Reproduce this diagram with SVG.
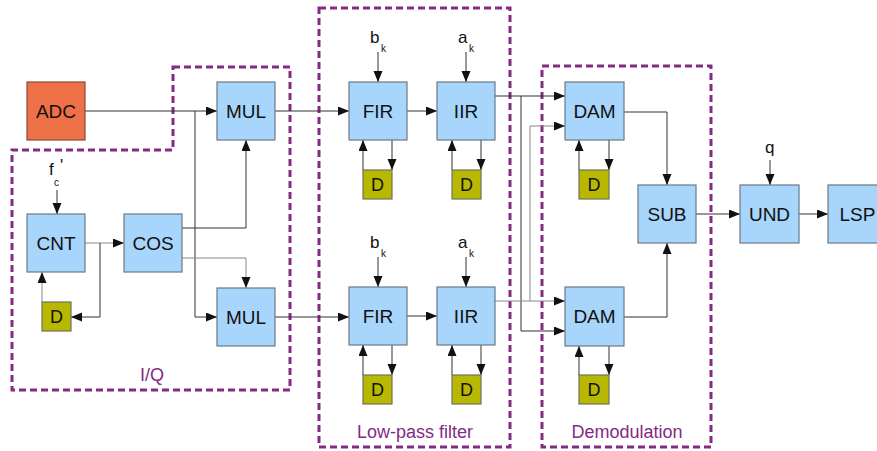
<svg xmlns="http://www.w3.org/2000/svg" width="877" height="451" viewBox="0 0 877 451">
<style>
.box{fill:#a7d5fb;stroke:#6a7a88;stroke-width:1.2}
.adc{fill:#ee7046;stroke:#8a4a35;stroke-width:1.2}
.d{fill:#b9b800;stroke:#707060;stroke-width:1.2}
.t{font-family:"Liberation Sans",Arial,sans-serif;font-size:19px;fill:#111;text-anchor:middle}
.td{font-family:"Liberation Sans",Arial,sans-serif;font-size:18px;fill:#111;text-anchor:middle}
.lbl{font-family:"Liberation Sans",Arial,sans-serif;font-size:17px;fill:#111}
.sub{font-family:"Liberation Sans",Arial,sans-serif;font-size:10px;fill:#111}
.grp{fill:none;stroke:#842a83;stroke-width:3;stroke-dasharray:7,4}
.gl{font-family:"Liberation Sans",Arial,sans-serif;font-size:18px;fill:#842a83;text-anchor:middle}
.c{fill:none;stroke:#333;stroke-width:1;marker-end:url(#a)}
.g{stroke:#888}
</style>
<defs>
<marker id="a" markerUnits="userSpaceOnUse" markerWidth="12" markerHeight="10" refX="11" refY="4.5" orient="auto">
<path d="M0,0 L11,4.5 L0,9 z" fill="#111"/>
</marker>
</defs>
<g id="groups">
<path id="iq" class="grp" d="M173,67 H290 V390 H12 V150 H173 Z"/>
<text class="gl" x="152" y="381">I/Q</text>
<rect id="lpf" class="grp" x="319" y="8" width="191" height="439"/>
<text class="gl" x="415" y="438">Low-pass filter</text>
<rect id="demod" class="grp" x="542" y="66" width="169" height="381"/>
<text class="gl" x="627" y="438">Demodulation</text>
</g>
<g id="connectors">
<path class="c" d="M85,111 H217"/>
<path class="c" d="M195,111 V317 H217"/>
<path class="c" d="M182,228 H246 V140"/>
<path class="c g" d="M182,258 H246 V288"/>
<path class="c g" d="M85,243 H124"/>
<path class="c" d="M100,243 V317 H71"/>
<path class="c g" d="M42,302 V272"/>
<path class="c" d="M57,190 V214"/>
<path class="c" d="M275,111 H349"/>
<path class="c" d="M275,317 H349"/>
<path class="c" d="M378,52 V82"/>
<path class="c" d="M466,52 V82"/>
<path class="c" d="M378,257 V287"/>
<path class="c" d="M466,257 V287"/>
<path class="c" d="M407,111 H437"/>
<path class="c" d="M407,316 H437"/>
<path class="c" d="M392,140 V170"/>
<path class="c" d="M363,170 V140"/>
<path class="c" d="M481,140 V170"/>
<path class="c" d="M452,170 V140"/>
<path class="c" d="M392,345 V375"/>
<path class="c" d="M363,375 V345"/>
<path class="c" d="M481,345 V375"/>
<path class="c" d="M452,375 V345"/>
<path class="c" d="M495,96 H565"/>
<path class="c" d="M521,96 V331 H565"/>
<path class="c g" d="M495,301 H565"/>
<path class="c g" d="M530,301 V126 H565"/>
<path class="c" d="M609,140 V170"/>
<path class="c" d="M579,170 V140"/>
<path class="c" d="M609,346 V375"/>
<path class="c" d="M579,375 V346"/>
<path class="c" d="M624,112 H667 V185"/>
<path class="c" d="M624,317 H667 V243"/>
<path class="c" d="M696,214 H740"/>
<path class="c" d="M799,214 H828"/>
<path class="c" d="M770,160 V185"/>
</g>
<g id="adc"><rect class="adc" x="27" y="82" width="58" height="58"/><text class="t" x="56" y="118">ADC</text></g>
<g id="mul1"><rect class="box" x="217" y="82" width="58" height="58"/><text class="t" x="246" y="118">MUL</text></g>
<g id="mul2"><rect class="box" x="217" y="288" width="58" height="58"/><text class="t" x="246" y="324">MUL</text></g>
<g id="cnt"><rect class="box" x="27" y="214" width="58" height="58"/><text class="t" x="56" y="250">CNT</text></g>
<g id="cos"><rect class="box" x="124" y="214" width="58" height="58"/><text class="t" x="153" y="250">COS</text></g>
<g id="dcnt"><rect class="d" x="42" y="302" width="29" height="29"/><text class="td" x="56.5" y="323">D</text></g>
<g id="fc"><text class="lbl" x="49" y="175">f</text><text class="lbl" x="60" y="171">'</text><text class="sub" x="54" y="186">c</text></g>
<g id="fir1"><rect class="box" x="349" y="82" width="58" height="58"/><text class="t" x="378" y="118">FIR</text></g>
<g id="iir1"><rect class="box" x="437" y="82" width="58" height="58"/><text class="t" x="466" y="118">IIR</text></g>
<g id="fir2"><rect class="box" x="349" y="287" width="58" height="58"/><text class="t" x="378" y="323">FIR</text></g>
<g id="iir2"><rect class="box" x="437" y="287" width="58" height="58"/><text class="t" x="466" y="323">IIR</text></g>
<g id="dfir1"><rect class="d" x="363" y="170" width="29" height="29"/><text class="td" x="377.5" y="191">D</text></g>
<g id="diir1"><rect class="d" x="452" y="170" width="29" height="29"/><text class="td" x="466.5" y="191">D</text></g>
<g id="dfir2"><rect class="d" x="363" y="375" width="29" height="29"/><text class="td" x="377.5" y="396">D</text></g>
<g id="diir2"><rect class="d" x="452" y="375" width="29" height="29"/><text class="td" x="466.5" y="396">D</text></g>
<g id="bk1"><text class="lbl" x="370" y="43">b</text><text class="sub" x="381" y="52">k</text></g>
<g id="ak1"><text class="lbl" x="458" y="43">a</text><text class="sub" x="469" y="52">k</text></g>
<g id="bk2"><text class="lbl" x="370" y="248">b</text><text class="sub" x="381" y="257">k</text></g>
<g id="ak2"><text class="lbl" x="458" y="248">a</text><text class="sub" x="469" y="257">k</text></g>
<g id="dam1"><rect class="box" x="565" y="82" width="59" height="58"/><text class="t" x="594.5" y="118">DAM</text></g>
<g id="dam2"><rect class="box" x="565" y="287" width="59" height="59"/><text class="t" x="594.5" y="323">DAM</text></g>
<g id="ddam1"><rect class="d" x="579" y="170" width="30" height="29"/><text class="td" x="594" y="191">D</text></g>
<g id="ddam2"><rect class="d" x="579" y="375" width="30" height="29"/><text class="td" x="594" y="396">D</text></g>
<g id="sub"><rect class="box" x="638" y="185" width="58" height="58"/><text class="t" x="667" y="221">SUB</text></g>
<g id="und"><rect class="box" x="740" y="185" width="59" height="58"/><text class="t" x="769.5" y="221">UND</text></g>
<g id="lsp"><rect class="box" x="828" y="185" width="59" height="58"/><text class="t" x="857.5" y="221">LSP</text></g>
<g id="q"><text class="lbl" x="765" y="153">q</text></g>
</svg>
